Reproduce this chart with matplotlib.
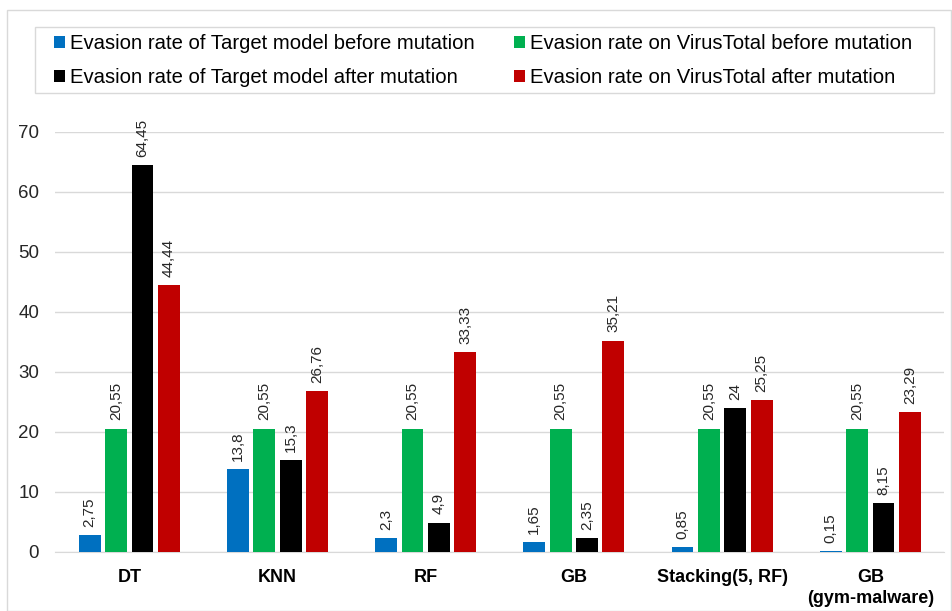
import matplotlib.pyplot as plt
import numpy as np
from matplotlib.patches import Rectangle

plt.rcParams['font.family'] = ['Liberation Sans', 'DejaVu Sans']

categories = ['DT', 'KNN', 'RF', 'GB', 'Stacking(5, RF)', 'GB\n(gym-malware)']
target_before = [2.75, 13.8, 2.3, 1.65, 0.85, 0.15]
vt_before = [20.55, 20.55, 20.55, 20.55, 20.55, 20.55]
target_after = [64.45, 15.3, 4.9, 2.35, 24, 8.15]
vt_after = [44.44, 26.76, 33.33, 35.21, 25.25, 23.29]

series = [
    (target_before, '#0070C0', 'Evasion rate of Target model before mutation'),
    (vt_before, '#00B050', 'Evasion rate on VirusTotal before mutation'),
    (target_after, '#000000', 'Evasion rate of Target model after mutation'),
    (vt_after, '#C00000', 'Evasion rate on VirusTotal after mutation'),
]

fig = plt.figure(figsize=(9.52, 6.11), dpi=100)
ax = fig.add_axes([0.058, 0.0966, 0.934, 0.6874])

# outer chart border + legend box
fig.patches.append(Rectangle((7/952, 0), 944/952, 601/611, transform=fig.transFigure,
                             fill=False, edgecolor='#D9D9D9', linewidth=1))
fig.patches.append(Rectangle((35/952, 1 - 93/611), 899/952, 66/611, transform=fig.transFigure,
                             fill=False, edgecolor='#D9D9D9', linewidth=1))

x = np.arange(len(categories))
w = 0.148
step = 0.178
offsets = [-1.5, -0.5, 0.5, 1.5]

handles = []
for (vals, color, label), off in zip(series, offsets):
    bars = ax.bar(x + off * step, vals, w, color=color, label=label, zorder=3)
    handles.append(bars)
    for b, v in zip(bars, vals):
        txt = ('%g' % v).replace('.', ',')
        ax.annotate(txt, (b.get_x() + b.get_width() / 2, v), xytext=(0, 6),
                    textcoords='offset points', rotation=90, ha='center', va='bottom',
                    fontsize=11, color='#262626', annotation_clip=False)

ax.set_ylim(0, 70)
ax.set_xlim(-0.5, len(categories) - 0.5)
ax.set_yticks(np.arange(0, 71, 10))
ax.set_xticks(x)
ax.set_xticklabels(categories, fontsize=13, fontweight='bold', linespacing=1.35)
ax.tick_params(axis='y', labelsize=13.5, length=0, pad=11.5, labelcolor='#262626')
ax.tick_params(axis='x', length=0, pad=12)
ax.grid(axis='y', color='#D9D9D9', linewidth=1, zorder=0)
for s in ['top', 'right', 'left']:
    ax.spines[s].set_visible(False)
ax.spines['bottom'].set_color('#D9D9D9')

# legend reads row-wise: blue, green / black, red
order = [0, 2, 1, 3]
fig.legend([handles[i] for i in order], [series[i][2] for i in order],
           loc='upper left', ncol=2, bbox_to_anchor=(54/952, 1 - 34/611),
           fontsize=14.6, frameon=False, borderpad=0, borderaxespad=0,
           handlelength=0.55, handleheight=0.55, handletextpad=0.25,
           columnspacing=1.9, labelspacing=0.75)

fig.savefig('out.png', dpi=100)
